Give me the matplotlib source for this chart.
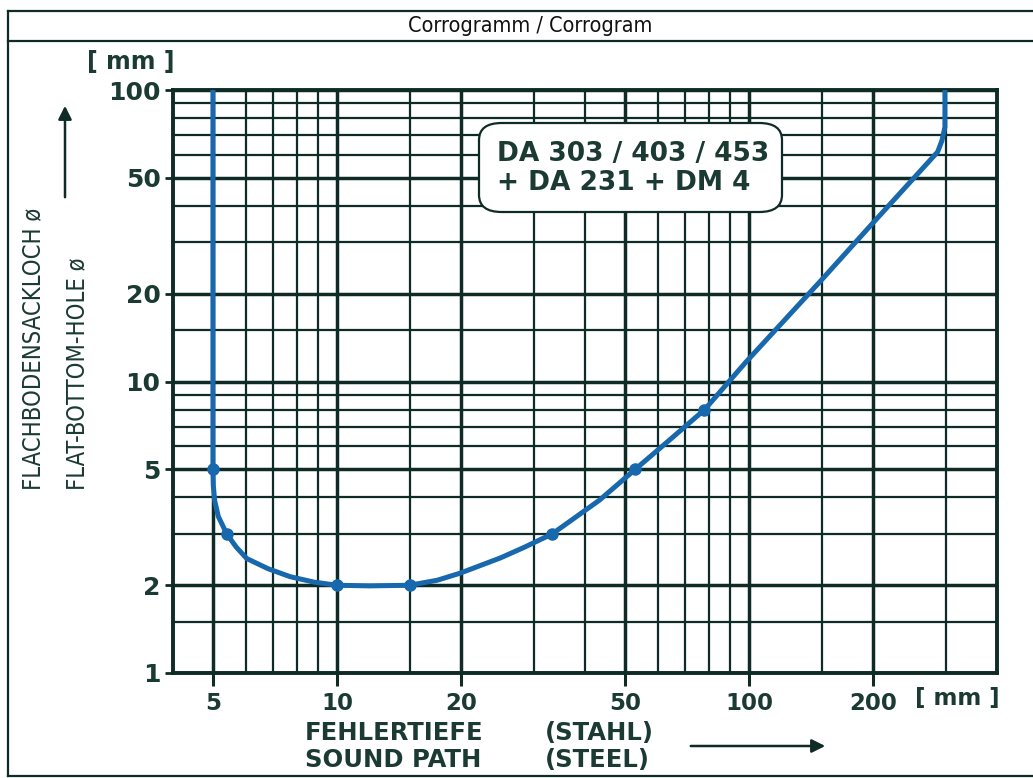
import matplotlib
matplotlib.use("Agg")
import matplotlib.pyplot as plt
from matplotlib.patches import FancyBboxPatch, FancyArrowPatch
from matplotlib.lines import Line2D
from matplotlib.ticker import FixedLocator, NullFormatter, FixedFormatter

# ---- data ----
x_major = [5, 10, 20, 50, 100, 200]
x_major_labels = ["5", "10", "20", "50", "100", "200"]
x_minor = [6, 7, 8, 9, 15, 30, 40, 60, 70, 80, 90, 150, 300]
y_major = [1, 2, 5, 10, 20, 50, 100]
y_major_labels = ["1", "2", "5", "10", "20", "50", "100"]
y_minor = [1.5, 3, 4, 6, 7, 8, 9, 15, 30, 40, 60, 70, 80, 90]

curve_x = [5, 5, 5.01, 5.05, 5.15, 5.4, 5.7, 6.04, 6.8, 7.7, 8.8, 10, 12, 15, 17.5, 19.9, 24.9, 28.5, 33.3, 43.4, 53, 65, 78, 98, 150, 200, 287, 294, 299, 299]
curve_y = [100, 5, 4.4, 3.9, 3.45, 3.0, 2.7, 2.47, 2.28, 2.14, 2.05, 2.0, 1.99, 2.0, 2.08, 2.2, 2.48, 2.7, 3.0, 3.92, 5.0, 6.4, 8.0, 11.6, 22.3, 35, 61.3, 67, 74.6, 100]
marker_x = [5, 5.4, 10, 15, 33.3, 53, 78]
marker_y = [5, 3.0, 2.0, 2.0, 3.0, 5.0, 8.0]

title_text = "Corrogramm / Corrogram"
box_lines = ["DA 303 / 403 / 453", "+ DA 231 + DM 4"]
ylabel_1 = "FLACHBODENSACKLOCH ø"
ylabel_2 = "FLAT-BOTTOM-HOLE ø"
xlabel_1 = ("FEHLERTIEFE", "(STAHL)")
xlabel_2 = ("SOUND PATH", "(STEEL)")
unit_text = "[ mm ]"

# ---- styling ----
GRID = "#0f2b25"
TXT = "#1b3a33"
BLUE = "#1768ad"
MAIN = "DejaVu Sans"

W, H = 1033, 778
fig = plt.figure(figsize=(W / 100, H / 100), dpi=100)
fig.patch.set_facecolor("white")

def fx(px):
    return px / W

def fy(py):
    return 1 - py / H

ax = fig.add_axes([fx(173), fy(673), fx(997) - fx(173), fy(90) - fy(673)])
ax.set_xscale("log")
ax.set_yscale("log")
ax.set_xlim(4, 400)
ax.set_ylim(1, 100)

ax.xaxis.set_major_locator(FixedLocator(x_major))
ax.xaxis.set_major_formatter(FixedFormatter(x_major_labels))
ax.xaxis.set_minor_locator(FixedLocator(x_minor))
ax.xaxis.set_minor_formatter(NullFormatter())
ax.yaxis.set_major_locator(FixedLocator(y_major))
ax.yaxis.set_major_formatter(FixedFormatter(y_major_labels))
ax.yaxis.set_minor_locator(FixedLocator(y_minor))
ax.yaxis.set_minor_formatter(NullFormatter())

ax.grid(which="major", color=GRID, lw=2.5)
ax.grid(which="minor", color=GRID, lw=1.6)
ax.set_axisbelow(True)
for s in ax.spines.values():
    s.set_color(GRID)
    s.set_linewidth(2.8)

ax.tick_params(axis="x", which="major", length=9, width=2.2, color=GRID, pad=5,
               labelsize=16.5, labelcolor=TXT)
ax.tick_params(axis="y", which="major", length=6, width=2.0, color=GRID, pad=3,
               labelsize=18, labelcolor=TXT)
ax.tick_params(which="minor", length=0)
for lab in ax.get_yticklabels() + ax.get_xticklabels():
    lab.set_fontweight("bold")
    lab.set_family(MAIN)

ax.plot(curve_x, curve_y, color=BLUE, lw=3.6, solid_capstyle="butt",
        solid_joinstyle="round", zorder=5)
ax.plot(marker_x, marker_y, "o", color=BLUE, ms=8, zorder=6)

# text box
box = FancyBboxPatch((fx(479), fy(212)), fx(782) - fx(479), fy(123) - fy(212),
                     boxstyle="round,pad=0,rounding_size=0.022", transform=fig.transFigure,
                     facecolor="white", edgecolor=GRID, lw=1.6, zorder=10)
fig.patches.append(box)
fig.text(fx(497), fy(154), box_lines[0], fontsize=19, color=TXT, family=MAIN,
         fontweight="bold", va="center", ha="left", zorder=11)
fig.text(fx(497), fy(183), box_lines[1], fontsize=19, color=TXT, family=MAIN,
         fontweight="bold", va="center", ha="left", zorder=11)

# frame
for seg in ([fx(8), 1], [fy(11), fy(11)]), ([fx(8), 1], [fy(41), fy(41)]), \
           ([fx(8), fx(8)], [fy(11), fy(776)]), ([fx(8), 1], [fy(776), fy(776)]):
    fig.add_artist(Line2D(seg[0], seg[1], color=GRID, lw=1.6, transform=fig.transFigure))

fig.text(fx(530), fy(26), title_text, fontsize=15.5, color="#111", family=MAIN,
         fontstretch="condensed", ha="center", va="center")

fig.text(fx(131), fy(62), unit_text, fontsize=17, color=TXT, family=MAIN,
         fontweight="bold", ha="center", va="center")
fig.text(fx(957), fy(698), unit_text, fontsize=16.5, color=TXT, family=MAIN,
         fontweight="bold", ha="center", va="center")

# y labels
fig.text(fx(33), fy(490), ylabel_1, fontsize=17, color=TXT, family=MAIN,
         fontstretch="condensed", rotation=90, ha="center", va="bottom")
fig.text(fx(77), fy(490), ylabel_2, fontsize=17, color=TXT, family=MAIN,
         fontstretch="condensed", rotation=90, ha="center", va="bottom")
fig.add_artist(FancyArrowPatch(
    (fx(65), fy(200)), (fx(65), fy(103)), transform=fig.transFigure,
    arrowstyle="-|>,head_length=8,head_width=4", color=GRID, lw=1.8))

# x labels
for (txt, px, py) in [(xlabel_1[0], 305, 733), (xlabel_1[1], 545, 733),
                      (xlabel_2[0], 305, 760), (xlabel_2[1], 545, 760)]:
    fig.text(fx(px), fy(py), txt, fontsize=17.5, color=TXT, family=MAIN,
             fontweight="bold", ha="left", va="center")
fig.add_artist(FancyArrowPatch(
    (fx(688), fy(746)), (fx(828), fy(746)), transform=fig.transFigure,
    arrowstyle="-|>,head_length=8,head_width=4", color=GRID, lw=1.8))

fig.savefig("out.png", dpi=100, facecolor="white")
